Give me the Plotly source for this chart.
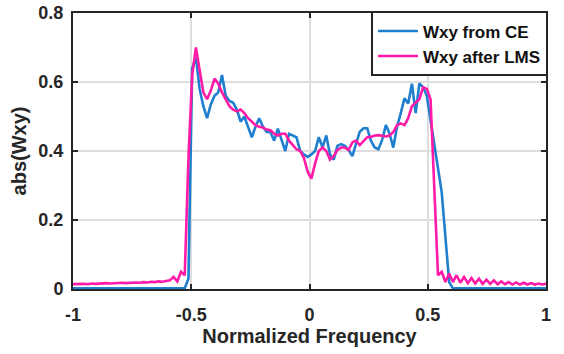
import numpy as np
import plotly.graph_objects as go

# Normalized frequency grid (128 FFT bins spanning -1..1)
freq = np.linspace(-1, 1, 128)

wxy_ce = [
    0.002, 0.002, 0.002, 0.002, 0.002, 0.002, 0.002, 0.002, 0.002, 0.002,
    0.002, 0.002, 0.002, 0.002, 0.002, 0.002, 0.002, 0.002, 0.002, 0.002,
    0.002, 0.002, 0.002, 0.002, 0.002, 0.002, 0.002, 0.002, 0.002, 0.002,
    0.002, 0.03, 0.64, 0.67, 0.58, 0.53, 0.495, 0.535, 0.56, 0.57,
    0.62, 0.56, 0.545, 0.54, 0.52, 0.485, 0.50, 0.47, 0.44, 0.47,
    0.495, 0.47, 0.455, 0.455, 0.43, 0.465, 0.43, 0.40, 0.45, 0.445,
    0.44, 0.40, 0.39, 0.383, 0.39, 0.40, 0.44, 0.41, 0.445, 0.39,
    0.375, 0.415, 0.42, 0.415, 0.403, 0.385, 0.42, 0.456, 0.466, 0.466,
    0.43, 0.41, 0.405, 0.432, 0.475, 0.45, 0.41, 0.47, 0.51, 0.553,
    0.538, 0.595, 0.51, 0.596, 0.585, 0.56, 0.49, 0.42, 0.35, 0.28,
    0.15, 0.02, 0.002, 0.002, 0.002, 0.002, 0.002, 0.002, 0.002, 0.002,
    0.002, 0.002, 0.002, 0.002, 0.002, 0.002, 0.002, 0.002, 0.002, 0.002,
    0.002, 0.002, 0.002, 0.002, 0.002, 0.002, 0.002, 0.002,
]

wxy_lms = [
    0.014, 0.015, 0.014, 0.015, 0.014, 0.016, 0.015, 0.016, 0.015, 0.017,
    0.016, 0.017, 0.016, 0.018, 0.017, 0.018, 0.017, 0.019, 0.018, 0.020,
    0.019, 0.021, 0.020, 0.022, 0.021, 0.024, 0.025, 0.035, 0.022, 0.05,
    0.04, 0.38, 0.62, 0.70, 0.64, 0.57, 0.55, 0.575, 0.61, 0.595,
    0.57, 0.55, 0.53, 0.52, 0.515, 0.52, 0.51, 0.495, 0.485, 0.475,
    0.47, 0.468, 0.462, 0.46, 0.45, 0.445, 0.45, 0.45, 0.43, 0.417,
    0.405, 0.40, 0.38, 0.34, 0.32, 0.364, 0.40, 0.41, 0.40, 0.375,
    0.385, 0.403, 0.41, 0.41, 0.403, 0.425, 0.43, 0.417, 0.43, 0.44,
    0.441, 0.445, 0.446, 0.445, 0.442, 0.445, 0.455, 0.475, 0.48, 0.475,
    0.495, 0.53, 0.54, 0.55, 0.585, 0.58, 0.55, 0.30, 0.04, 0.05,
    0.02, 0.045, 0.02, 0.04, 0.018, 0.035, 0.017, 0.032, 0.016, 0.03,
    0.015, 0.027, 0.015, 0.025, 0.014, 0.022, 0.014, 0.02, 0.013, 0.019,
    0.013, 0.018, 0.013, 0.017, 0.013, 0.016, 0.013, 0.015,
]

x_ticks = [-1, -0.5, 0, 0.5, 1]
x_labels = ["-1", "-0.5", "0", "0.5", "1"]
y_ticks = [0, 0.2, 0.4, 0.6, 0.8]
y_labels = ["0", "0.2", "0.4", "0.6", "0.8"]

FONT = "Liberation Sans, Arial, sans-serif"
INK = "#262626"

fig = go.Figure()
fig.add_trace(go.Scatter(x=freq, y=wxy_ce, mode="lines", name="Wxy from CE",
                         line=dict(color="#1f7fcf", width=2.6)))
fig.add_trace(go.Scatter(x=freq, y=wxy_lms, mode="lines", name="Wxy after LMS",
                         line=dict(color="#ff1aa8", width=2.6)))

axis_common = dict(
    showline=True, linecolor=INK, linewidth=2, mirror="allticks",
    ticks="inside", ticklen=5, tickwidth=2, tickcolor=INK,
    showgrid=True, gridcolor="#dedede", gridwidth=1.5, zeroline=False,
    automargin=False,
    tickfont=dict(family=FONT, size=18, color=INK, weight="bold"),
)

fig.update_xaxes(range=[-1, 1], tickvals=x_ticks, ticktext=x_labels,
                 ticklabelstandoff=8,
                 title=dict(text="Normalized Frequency", standoff=2,
                            font=dict(family=FONT, size=20, color=INK, weight="bold")),
                 **axis_common)
fig.update_yaxes(range=[0, 0.8], tickvals=y_ticks, ticktext=y_labels,
                 ticklabelstandoff=4,
                 title=dict(text="abs(Wxy)", standoff=6,
                            font=dict(family=FONT, size=20, color=INK, weight="bold")),
                 **axis_common)

fig.update_layout(
    width=564, height=354,
    margin=dict(l=73, r=18, t=13, b=65),
    plot_bgcolor="white", paper_bgcolor="white",
    showlegend=True,
    legend=dict(x=1.003, y=1.004, xanchor="right", yanchor="top",
                bgcolor="white", bordercolor=INK, borderwidth=1.5,
                font=dict(family=FONT, size=17, color="#111111", weight="bold"),
                itemwidth=40, tracegroupgap=0),
)

fig.write_html("out.html")
